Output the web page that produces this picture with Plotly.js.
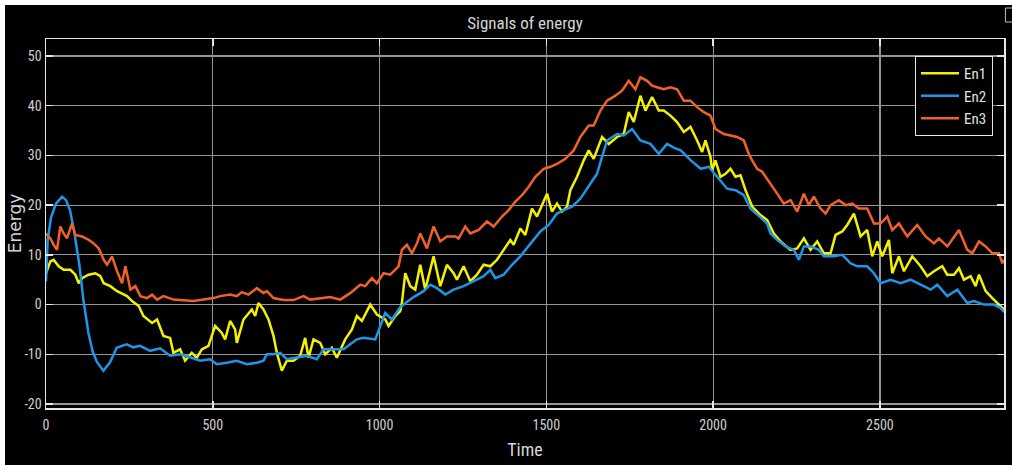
<!DOCTYPE html>
<html>
<head>
<meta charset="utf-8">
<script src="https://cdn.plot.ly/plotly-3.0.1.min.js"></script>
<style>
  html, body { margin: 0; padding: 0; background: #ffffff; width: 1012px; height: 466px; overflow: hidden; }
  #chart { position: absolute; left: 5px; top: 5px; width: 1007px; height: 460px; background: #000; }
</style>
</head>
<body>
<div id="chart"></div>
<script>
// ---- data ----
const en1Time = [0,13,23,38,53,73,88,98,108,128,148,163,173,193,213,243,258,278,292,318,333,352,372,382,402,417,437,452,467,487,507,527,537,552,567,572,592,617,627,637,652,667,682,692,707,722,742,762,777,787,802,822,837,857,872,897,917,932,947,972,992,1017,1027,1047,1062,1067,1077,1092,1107,1122,1137,1162,1182,1202,1222,1232,1252,1272,1292,1312,1332,1352,1372,1392,1402,1422,1437,1457,1472,1502,1517,1532,1547,1562,1572,1592,1612,1627,1642,1652,1667,1687,1712,1732,1747,1762,1782,1797,1817,1837,1852,1872,1892,1912,1932,1952,1967,1977,1992,1997,2007,2022,2037,2052,2067,2082,2097,2117,2142,2162,2182,2202,2232,2252,2272,2292,2312,2332,2352,2367,2387,2402,2422,2442,2462,2477,2492,2507,2527,2537,2557,2572,2597,2622,2642,2662,2687,2702,2722,2737,2752,2772,2787,2797,2817,2837,2857,2872];
const en1Values = [6.3,8.7,9,7.7,7,7,6,4.3,5.3,6,6.3,5.7,4.3,3.7,2.7,1.7,0.7,-0.3,-2.3,-3.7,-3,-6.3,-6.7,-9.7,-9,-11.3,-9.7,-10.7,-9,-8.3,-4.3,-5.7,-7,-3.3,-5,-7.7,-3,-1,-2.3,0.3,-1,-3,-6.3,-9.7,-13.3,-11.3,-11.3,-10.3,-6.7,-10.7,-7,-7.7,-10,-8.7,-10.7,-7,-5,-2.3,-3.3,0,-2,-3,-4.3,-2.3,-1.3,0.3,6.3,3.7,3,8,3,9.7,3.7,8,6.3,5,7.7,4.7,6,8,7.7,9,11,13,12,15.3,14,19.3,17.7,22.3,18.7,20.3,18.7,19.7,23,25.7,29,31,29.3,31,33.7,32.3,33.7,34.3,38.7,36.7,42,39,41.7,39,39,38,36.7,34.7,35.7,33,30.7,33,29.7,27,29,25.7,26.3,27.3,25.7,26,23,19.7,18,17,14.3,12.7,11,11.3,13.3,11,12.7,10.3,10.3,14,14.7,16,18.3,13.7,15,9.7,12.7,9.7,13,6.3,9.7,6.7,9.7,7.7,5.7,6.7,7.7,6,6,7.3,5,5.7,3.7,6,2.7,1.3,0,-1];

const en2Time = [0,5,15,30,48,60,72,85,100,112,127,140,153,172,192,212,232,242,262,282,312,342,372,402,432,462,492,512,542,572,602,632,652,662,682,702,722,752,782,812,832,862,892,932,952,987,1002,1017,1037,1062,1082,1102,1132,1152,1172,1197,1222,1252,1282,1312,1332,1347,1372,1397,1422,1452,1482,1507,1532,1552,1577,1602,1627,1652,1667,1682,1712,1732,1757,1782,1812,1837,1862,1883,1903,1933,1963,1987,2012,2042,2067,2092,2112,2137,2162,2172,2192,2217,2242,2257,2272,2292,2317,2332,2362,2387,2412,2432,2462,2482,2502,2532,2562,2592,2622,2652,2672,2702,2732,2762,2782,2812,2842,2862,2872];
const en2Values = [4.7,13,17.5,20.3,21.7,21,19,14.5,8,1,-5.6,-9.5,-11.6,-13.3,-11.6,-8.7,-8.2,-8,-8.6,-8.3,-9.3,-8.8,-10.3,-10,-10.6,-11.3,-11,-12,-11.7,-11.3,-12,-11.7,-11.3,-10,-10,-9.7,-11,-10.7,-10.3,-11,-9,-9,-9,-7,-6.7,-7,-4.3,-1.7,-3,-0.5,0.5,1.5,2.7,4,3.3,2,3,3.7,4.7,5.7,7,5.3,6,8,9.7,12.3,14.7,16,18.3,19,19.7,21.3,23.7,26.3,29.7,33,34.3,34,35.3,33,32.3,30.3,32.3,31.5,31,29,27.3,27.7,25.7,23.3,23,22,19.3,17.7,16.3,14.3,13,11.7,11,9,11.7,11.7,11,9.7,9.7,10,8.3,7.7,7.7,6.3,4.3,5,4.3,5,4,3,4,1.7,3,0.3,0.7,0,0,-0.7,-1.5];

const en3Time = [0,13,23,33,43,53,63,78,88,108,128,143,158,173,183,198,213,228,238,253,268,283,303,318,333,352,382,412,442,472,502,522,552,572,587,607,632,652,662,682,712,742,772,792,822,852,882,912,942,957,977,992,1012,1032,1057,1067,1082,1097,1112,1122,1142,1162,1182,1202,1227,1237,1257,1272,1297,1322,1342,1367,1387,1407,1427,1447,1467,1492,1512,1532,1557,1582,1602,1627,1642,1662,1682,1707,1727,1747,1767,1782,1802,1817,1832,1852,1872,1892,1912,1932,1952,1972,1992,2007,2032,2052,2072,2092,2107,2117,2132,2147,2162,2177,2192,2212,2232,2252,2272,2287,2302,2322,2337,2352,2377,2397,2417,2437,2462,2482,2502,2522,2537,2557,2582,2612,2637,2662,2677,2702,2737,2762,2777,2797,2817,2837,2857,2867,2872];
const en3Values = [14.3,13.3,12,11,15.7,14.3,13.3,16.3,14,13.7,13,12.3,11.3,9,8,9.7,6.7,4.3,7.7,3,3.7,1.7,1.3,2,1,1.7,1,0.9,0.7,1,1.3,1.7,2,1.7,2.5,2,3.3,2.3,2.7,1.3,0.9,0.9,1.7,1,1.3,1.5,1,2.3,4,3.7,5.3,4.3,6.3,6,7.7,11,12,10.3,12.3,14.3,11.3,15.7,12.7,13.7,13.7,13.3,15.7,14.3,15,16.7,15.7,17.7,19,20.7,22,23.7,25.7,27.3,27.7,28.3,29.3,31,33.7,36,36,39,41,42,43,45,43.3,45.7,45,44,43.7,43.3,43.7,43.3,41,41,39.7,38.7,38,35.3,34.3,34,33.7,33,30.3,29,27.3,26.7,25.3,23.7,22.3,20.3,21,18.7,22.3,20,21.7,19.3,18.3,20,21,20,20.3,19.3,19.3,16.3,16.3,17.7,15,16.3,13.7,16,13.7,12.3,13.3,11.7,15,11,10.3,12.7,11.7,10.3,10.3,8.3,9];

const seriesNames = ["En1", "En2", "En3"];
const seriesColors = ["#f2f200", "#1e96e8", "#f0612a"];
const xTicks = [0, 500, 1000, 1500, 2000, 2500];
const yTicks = [-20, -10, 0, 10, 20, 30, 40, 50];

// ---- chart ----
const narrow = "Liberation Sans Narrow, Arial Narrow, Roboto Condensed, Liberation Sans, sans-serif";
const times = [en1Time, en2Time, en3Time];
const values = [en1Values, en2Values, en3Values];

const traces = seriesNames.map((name, i) => ({
  type: "scatter",
  mode: "lines",
  name: name,
  x: times[i],
  y: values[i],
  line: { color: seriesColors[i], width: 2.5 }
}));

const axisCommon = {
  showline: true,
  linecolor: "#e6e6e6",
  linewidth: 1.5,
  mirror: "ticks",
  ticks: "inside",
  ticklen: 7,
  tickwidth: 1.5,
  tickcolor: "#e6e6e6",
  showgrid: true,
  gridcolor: "#969696",
  gridwidth: 1.2,
  zeroline: false,
  tickfont: { family: narrow, size: 14, color: "#d0d0d0" }
};

const layout = {
  width: 1007,
  height: 460,
  paper_bgcolor: "#000000",
  plot_bgcolor: "#000000",
  margin: { l: 41, r: 8, t: 34, b: 57 },
  showlegend: true,
  title: {
    text: "Signals of energy",
    font: { family: narrow, size: 17, color: "#d6d6d6" },
    x: 0.5, xref: "paper", xanchor: "center",
    y: 0.961, yref: "container", yanchor: "middle"
  },
  xaxis: Object.assign({}, axisCommon, {
    range: [0, 2872],
    tickmode: "array",
    tickvals: xTicks,
    ticktext: xTicks.map(String),
    ticklabelstandoff: 4,
    title: { text: "Time", font: { family: narrow, size: 18, color: "#d6d6d6" }, standoff: 11 }
  }),
  yaxis: Object.assign({}, axisCommon, {
    range: [-20.8, 53.4],
    tickmode: "array",
    tickvals: yTicks,
    ticktext: yTicks.map(String),
    title: { text: "Energy", font: { family: "DejaVu Sans, sans-serif", size: 17, color: "#d6d6d6" }, standoff: 4 }
  }),
  legend: {
    x: 0.9885, xanchor: "right",
    y: 0.954, yanchor: "top",
    bgcolor: "#000000",
    bordercolor: "#e6e6e6",
    borderwidth: 1,
    font: { family: narrow, size: 15, color: "#e0e0e0" },
    itemwidth: 38,
    tracegroupgap: 0
  },
  shapes: [
    { type: "rect", xref: "paper", yref: "paper", x0: 1.0015, x1: 1.009, y0: 1.046, y1: 1.084,
      line: { color: "#bdbdbd", width: 1 }, fillcolor: "#000000" }
  ]
};

Plotly.newPlot("chart", traces, layout, { displayModeBar: false, responsive: false, staticPlot: true });
</script>
</body>
</html>
